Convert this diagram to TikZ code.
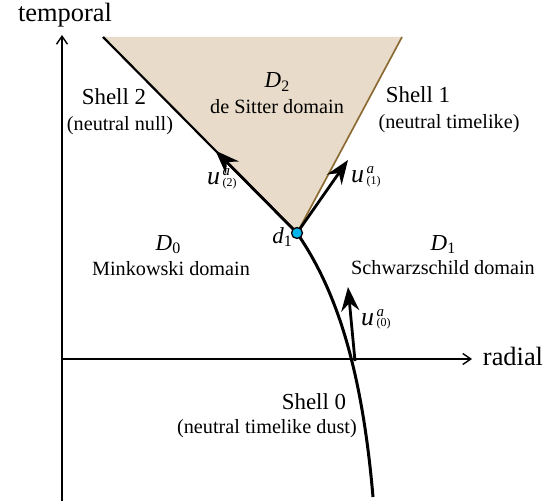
\documentclass[tikz,border=0pt]{standalone}
\usepackage{fontspec}
\setmainfont{Liberation Serif}
\usetikzlibrary{arrows.meta,calc}
\definecolor{regionfill}{RGB}{233,219,201}
\definecolor{shellbrown}{RGB}{140,108,52}
\definecolor{dotcyan}{RGB}{0,180,235}
\newcommand{\Dsub}[1]{\textit{D}\raisebox{-0.35ex}{\fontsize{16}{16}\selectfont #1}}
\begin{document}
\begin{tikzpicture}[x=1bp,y=-1bp,
  axislbl/.style={font=\fontsize{26.5}{28}\selectfont, anchor=base, inner sep=0},
  shelllbl/.style={font=\fontsize{23}{25}\selectfont, anchor=base, inner sep=0},
  domlbl/.style={font=\fontsize{20.3}{22}\selectfont, anchor=base, inner sep=0},
  dlbl/.style={font=\fontsize{23}{25}\selectfont, anchor=base, inner sep=0},
  ubase/.style={font=\fontsize{26}{27}\selectfont\itshape, anchor=base west, inner sep=0},
  usup/.style={font=\fontsize{15}{16}\selectfont\itshape, anchor=base west, inner sep=0},
  usub/.style={font=\fontsize{12}{13}\selectfont, anchor=north west, inner sep=0},
  axisline/.style={line width=1.5bp, -{Straight Barb[length=8bp,width=11bp,line width=1.4bp]}},
  vecarrow/.style={line width=2.8bp, -{Stealth[length=24bp,width=18bp,inset=8bp]}},
]
\useasboundingbox (0,0) rectangle (559,501);
% coordinates
\coordinate (origin) at (62,359);
\coordinate (ytip) at (62,35);
\coordinate (ybot) at (62,501);
\coordinate (xtip) at (472,359);
\coordinate (tl) at (103,37);
\coordinate (tr) at (402,37);
\coordinate (d1) at (297,233);
\coordinate (s0end) at (373,497);
\coordinate (u0tail) at (355,361);
\coordinate (u0tip) at (348,287);
\coordinate (u1tip) at (348,160);
% shaded de Sitter region
\fill[regionfill] (tl) -- (tr) -- (d1) -- cycle;
\draw[shellbrown, line width=1.7bp] (d1) -- (tr);
\draw[black, line width=2.2bp] (tl) -- (d1);
% axes
\draw[axisline] (ybot) -- (ytip);
\draw[axisline] (origin) -- (xtip);
% shell 0
\draw[line width=3bp] (d1) .. controls (332,284) and (361,357) .. (s0end);
% vectors
\draw[vecarrow] (u0tail) -- (u0tip);
\draw[vecarrow] (d1) -- ($(d1)!0.42!(tl)$);
\draw[vecarrow] (d1) -- (u1tip);
% event d1
\node[circle, draw=black, line width=1.3bp, fill=dotcyan, minimum size=11bp, inner sep=0] (d1dot) at (d1) {};
% labels
\node[axislbl] (temporal) at (65,22) {temporal};
\node[axislbl] (radial) at (513,365) {radial};
\node[dlbl] (D2) at (277,88) {\Dsub{2}};
\node[domlbl] (dS) at (277,114) {de Sitter domain};
\node[shelllbl] (sh2) at (114,105) {Shell 2};
\node[domlbl] (sh2b) at (120,131) {(neutral null)};
\node[shelllbl] (sh1) at (418,103) {Shell 1};
\node[domlbl] (sh1b) at (449,129) {(neutral timelike)};
\node[dlbl] (D0) at (168,250) {\Dsub{0}};
\node[domlbl] (mink) at (171,275) {Minkowski domain};
\node[dlbl] (D1) at (443,250) {\Dsub{1}};
\node[domlbl] (schw) at (443,274) {Schwarzschild domain};
\node[dlbl] (d1lbl) at (282,243) {\textit{d}\raisebox{-0.35ex}{\fontsize{16}{16}\selectfont 1}};
\node[shelllbl] (sh0) at (314,409) {Shell 0};
\node[domlbl, anchor=base east] (sh0b) at (357,433) {(neutral timelike dust)};
% vector labels u^a_(i)
\node[ubase] (u0) at (361,325) {u};
\node[usup] (u0a) at ($(u0.base east)+(2,-9)$) {a};
\node[usub] (u0s) at ($(u0.base east)+(2,-7)$) {(0)};
\node[ubase] (u2) at (207,185) {u};
\node[usup] (u2a) at ($(u2.base east)+(2,-9)$) {a};
\node[usub] (u2s) at ($(u2.base east)+(2,-7)$) {(2)};
\node[ubase] (u1) at (351,183) {u};
\node[usup] (u1a) at ($(u1.base east)+(2,-9)$) {a};
\node[usub] (u1s) at ($(u1.base east)+(2,-7)$) {(1)};
\end{tikzpicture}
\end{document}
